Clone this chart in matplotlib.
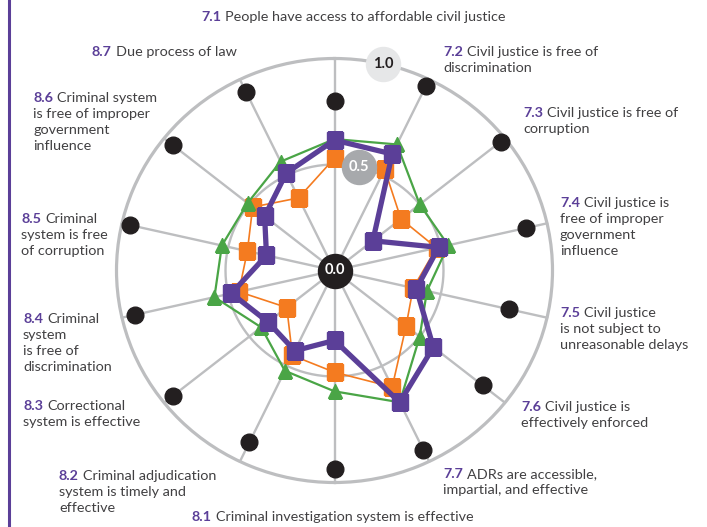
import numpy as np
import matplotlib.pyplot as plt
from matplotlib.lines import Line2D
from matplotlib.text import Annotation

plt.rcParams['font.family'] = ['Lato', 'DejaVu Sans']

W, H = 707, 527

# factor ids and label text (clockwise from the top)
factor_ids = ["7.1", "7.2", "7.3", "7.4", "7.5", "7.6", "7.7",
              "8.1", "8.2", "8.3", "8.4", "8.5", "8.6", "8.7"]
factor_lines = [
    ["People have access to affordable civil justice"],
    ["Civil justice is free of", "discrimination"],
    ["Civil justice is free of", "corruption"],
    ["Civil justice is", "free of improper", "government", "influence"],
    ["Civil justice", "is not subject to", "unreasonable delays"],
    ["Civil justice is", "effectively enforced"],
    ["ADRs are accessible,", "impartial, and effective"],
    ["Criminal investigation system is effective"],
    ["Criminal adjudication", "system is timely and", "effective"],
    ["Correctional", "system is effective"],
    ["Criminal", "system", "is free of", "discrimination"],
    ["Criminal", "system is free", "of corruption"],
    ["Criminal system", "is free of improper", "government", "influence"],
    ["Due process of law"],
]

# scores
top_score = [0.80, 0.965, 0.975, 0.90, 0.82, 0.87, 0.94,
             0.935, 0.90, 0.95, 0.94, 0.96, 0.95, 0.935]
green_score = [0.62, 0.66, 0.50, 0.535, 0.435, 0.50, 0.69,
               0.57, 0.525, 0.43, 0.565, 0.53, 0.51, 0.57]
orange_score = [0.53, 0.53, 0.39, 0.48, 0.37, 0.42, 0.61,
                0.48, 0.445, 0.28, 0.45, 0.41, 0.48, 0.38]
purple_score = [0.615, 0.61, 0.225, 0.49, 0.385, 0.58, 0.69,
                0.33, 0.42, 0.39, 0.485, 0.32, 0.41, 0.51]

# label anchor (left x, first line y) in pixels from the top-left corner
label_pos = [(201, 17), (443, 52), (523, 113), (560, 203), (560, 313),
             (521, 407), (443, 474), (192, 517), (59, 476), (23, 406),
             (23, 319), (21, 219), (33, 98), (92, 52)]

PURPLE = "#5b3f98"
ORANGE = "#f47b20"
GREEN = "#4aa546"
GRID = "#bdbec0"
TEXT = "#414042"
BLACK = "#231f20"

n = len(factor_ids)
theta = np.arange(n) * 2 * np.pi / n

fig = plt.figure(figsize=(W / 100, H / 100), dpi=100)
cx, cy, rx, ry = 334.5, 270.5, 218, 212
ax = fig.add_axes([(cx - rx) / W, (H - cy - ry) / H, 2 * rx / W, 2 * ry / H],
                  projection="polar")
ax.set_aspect("auto")
ax.set_theta_zero_location("N")
ax.set_theta_direction(-1)
ax.set_ylim(0, 1)
ax.set_xticks([])
ax.set_yticks([])
ax.grid(False)
ax.spines["polar"].set_color(GRID)
ax.spines["polar"].set_linewidth(2.3)

for t in theta:
    ax.plot([t, t], [0, 1.0], color=GRID, lw=1.7, zorder=1, clip_on=False)
ring = np.linspace(0, 2 * np.pi, 361)
ax.plot(ring, np.full_like(ring, 0.5), color=GRID, lw=1.7, zorder=1)

ax.plot(theta, top_score, "o", color=BLACK, ms=12, zorder=3, clip_on=False)

closed = np.append(theta, theta[0])
ax.plot(closed, orange_score + orange_score[:1], color=ORANGE, lw=1.2, zorder=4)
ax.plot(theta, orange_score, "s", color=ORANGE, ms=11.5, zorder=4)
ax.plot(closed, green_score + green_score[:1], color=GREEN, lw=1.6, zorder=5)
ax.plot(theta, green_score, "^", color=GREEN, ms=10.5, zorder=5)
ax.plot(closed, purple_score + purple_score[:1], color=PURPLE, lw=3.8, zorder=6)
ax.plot(theta, purple_score, "s", color=PURPLE, ms=12, zorder=6)

# scale markers
mid = np.pi / n
ax.scatter([0], [0], s=600, color=BLACK, zorder=10)
ax.text(0, 0, "0.0", color="white", fontsize=10.5, fontweight="bold",
        ha="center", va="center", zorder=11)
ax.scatter([mid], [0.5], s=600, color="#a7a9ac", zorder=10)
ax.text(mid, 0.5, "0.5", color="white", fontsize=10.5, fontweight="bold",
        ha="center", va="center", zorder=11)
ax.scatter([mid], [1.0], s=600, color="#e6e7e8", zorder=10, clip_on=False)
ax.text(mid, 1.0, "1.0", color=BLACK, fontsize=10.5, fontweight="bold",
        ha="center", va="center", zorder=11)

# category labels
fs = 10.4
for fid, lines, (x, y) in zip(factor_ids, factor_lines, label_pos):
    num = fig.text(x / W, 1 - y / H, fid, color=PURPLE, fontsize=fs,
                   fontweight="bold", ha="left", va="center")
    fig.add_artist(Annotation(lines[0], xy=(1, 0), xycoords=num,
                              xytext=(3, 0), textcoords="offset points",
                              ha="left", va="bottom", color=TEXT,
                              fontsize=fs))
    for k, line in enumerate(lines[1:], start=1):
        fig.text(x / W, 1 - (y + 16 * k) / H, line, color=TEXT, fontsize=fs,
                 ha="left", va="center")

fig.add_artist(Line2D([9 / W, 9 / W], [0, 1], color=PURPLE, lw=2.2))

fig.savefig("out.png", dpi=100)
